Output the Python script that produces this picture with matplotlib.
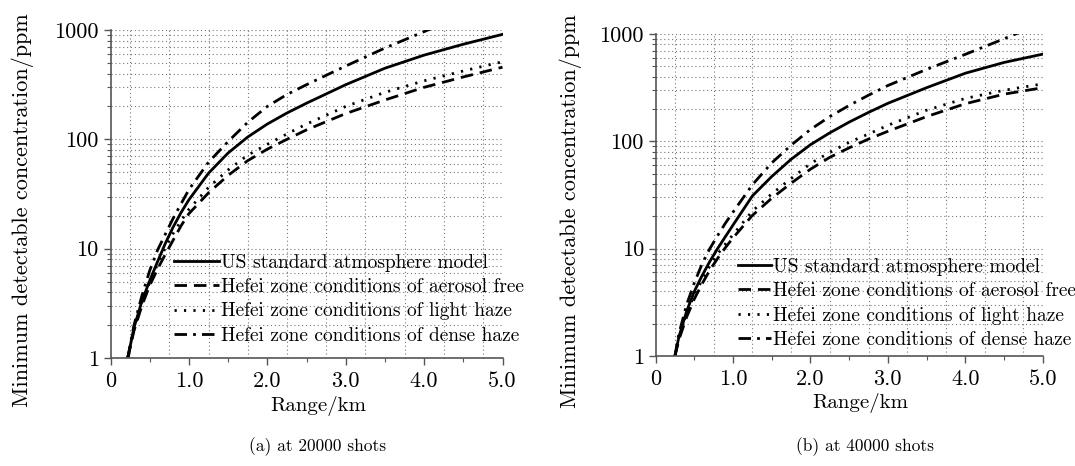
import numpy as np
import matplotlib
matplotlib.use("Agg")
import matplotlib.pyplot as plt
from matplotlib.ticker import FixedLocator, NullFormatter

plt.rcParams["font.family"] = "cmr10"
plt.rcParams["mathtext.fontset"] = "cm"
plt.rcParams["axes.formatter.use_mathtext"] = True

# ---- data (range in km, concentration in ppm) ----
# (a) 20000 shots
x_a = [0.22, 0.3, 0.4, 0.5, 0.6, 0.7, 0.8, 0.9, 1.0, 1.25, 1.5, 1.75, 2.0, 2.25, 2.5,
       2.75, 3.0, 3.5, 4.0, 4.5, 5.0]
us_a    = [1.0, 1.9, 3.3, 5.1, 7.6, 11.2, 15.8, 21.4, 28, 49, 75, 105, 138, 174, 214,
           260, 316, 447, 589, 741, 912]
free_a  = [1.0, 1.78, 3.0, 4.6, 6.5, 8.9, 12, 16.2, 20.9, 32.4, 46.8, 63.8, 81.3, 100, 122,
           145, 172, 229, 299, 372, 457]
light_a = [1.0, 1.86, 3.2, 4.9, 7.2, 10.2, 13.8, 18, 22.9, 36.3, 52.5, 71.6, 90, 112, 138,
           166, 200, 269, 343, 422, 513]
x_dense_a = [0.22, 0.3, 0.4, 0.5, 0.6, 0.7, 0.8, 0.9, 1.0, 1.25, 1.5, 1.75, 2.0, 2.25, 2.5,
             2.75, 3.0, 3.5, 4.0, 4.1]
dense_a = [1.0, 2.0, 3.7, 6.3, 9.7, 13.6, 19, 25.7, 34.7, 61.7, 95.5, 143, 200, 257, 316,
           385, 468, 684, 966, 1035]

# (b) 40000 shots
x_b = [0.25, 0.3, 0.4, 0.5, 0.6, 0.7, 0.8, 0.9, 1.0, 1.25, 1.5, 1.75, 2.0, 2.25, 2.5,
       2.75, 3.0, 3.5, 4.0, 4.5, 5.0]
us_b    = [1.0, 1.5, 2.6, 4.0, 5.6, 7.6, 10, 12.9, 16.6, 31, 47, 68, 93, 120, 151,
           186, 226, 316, 431, 543, 649]
free_b  = [1.0, 1.41, 2.3, 3.4, 4.7, 6.3, 8.1, 10.2, 12.6, 20.4, 29.5, 40.7, 55, 71, 87,
           105, 124, 170, 224, 275, 316]
light_b = [1.0, 1.48, 2.5, 3.7, 5.1, 6.9, 8.9, 11, 13.5, 22.4, 32.4, 45, 62, 79, 98,
           117, 141, 195, 251, 299, 343]
x_dense_b = [0.25, 0.3, 0.4, 0.5, 0.6, 0.7, 0.8, 0.9, 1.0, 1.25, 1.5, 1.75, 2.0, 2.25, 2.5,
             2.75, 3.0, 3.5, 4.0, 4.5, 4.65, 4.7]
dense_b = [1.0, 1.6, 3.0, 4.8, 7.2, 10, 13.2, 17.2, 21.9, 39.4, 63, 92, 129, 170, 216,
           269, 331, 468, 646, 902, 1000, 1035]

labels = ["US standard atmosphere model",
          "Hefei zone conditions of aerosol free",
          "Hefei zone conditions of light haze",
          "Hefei zone conditions of dense haze"]
captions = ["(a) at 20000 shots", "(b) at 40000 shots"]
xticks = [0, 1, 2, 3, 4, 5]
xticklabels = ["0", "1.0", "2.0", "3.0", "4.0", "5.0"]
yticks = [1, 10, 100, 1000]
yticklabels = ["1", "10", "100", "1000"]

styles = [dict(ls="-"),
          dict(ls=(0, (4.5, 2.5))),
          dict(ls=(0, (0.8, 2.6))),
          dict(ls=(0, (4.5, 2.2, 1, 2.2)))]

fig = plt.figure(figsize=(10.75, 4.66), dpi=100)
W, H = 1075, 466
axes_px = [(110.5, 502.5, 30, 358), (655.6, 1042.7, 34, 356)]
panels = [(x_a, us_a, free_a, light_a, x_dense_a, dense_a),
          (x_b, us_b, free_b, light_b, x_dense_b, dense_b)]
leg_anchor = [(0.162, 0.318), (0.212, 0.305)]
handle_len = [2.3, 1.7]
ylab_x = [-0.195, -0.19]
cap_x = [318, 865]
grid_kw = dict(color="#777777", lw=0.8, ls=(0, (1, 2.5)), zorder=0)

for i, (xs, us, fr, li, xd, de) in enumerate(panels):
    l, r, t, b = axes_px[i]
    ax = fig.add_axes([l / W, 1 - b / H, (r - l) / W, (b - t) / H])
    ax.set_yscale("log")
    ax.set_xlim(0, 5)
    ax.set_ylim(1, 1000)

    # dotted grid: horizontal at all log ticks, vertical at odd quarters
    for dec in [1, 10, 100]:
        for m in range(1, 10):
            if dec * m > 1:
                ax.axhline(dec * m, **grid_kw)
    ax.axhline(1000, **grid_kw)
    for gx in np.arange(0.25, 5.0, 0.5):
        ax.axvline(gx, **grid_kw)

    series = [(xs, us), (xs, fr), (xs, li), (xd, de)]
    for (sx, sy), st, lab in zip(series, styles, labels):
        ax.plot(sx, sy, color="black", lw=2.0, label=lab, **st)

    ax.xaxis.set_major_locator(FixedLocator(xticks))
    ax.set_xticklabels(xticklabels)
    ax.xaxis.set_minor_locator(FixedLocator(np.arange(0.5, 5.0, 1.0)))
    ax.yaxis.set_major_locator(FixedLocator(yticks))
    ax.set_yticklabels(yticklabels)
    ax.yaxis.set_minor_locator(FixedLocator([d * m for d in [1, 10, 100] for m in range(2, 10)]))
    ax.yaxis.set_minor_formatter(NullFormatter())
    ax.tick_params(which="major", direction="out", length=5, width=1, color="#555555",
                   labelsize=16)
    ax.tick_params(axis="x", which="major", pad=5)
    ax.tick_params(which="minor", direction="out", length=3, width=0.8, color="#555555")

    for s in ["top", "right"]:
        ax.spines[s].set_visible(False)
    for s in ["left", "bottom"]:
        ax.spines[s].set_color("#555555")
        ax.spines[s].set_linewidth(1.2)

    ax.set_xlabel("Range/km", fontsize=15)
    ax.xaxis.set_label_coords(0.53, -0.115)
    ax.set_ylabel("Minimum detectable concentration/ppm", fontsize=16)
    ax.yaxis.set_label_coords(ylab_x[i], 0.45)

    ax.legend(loc="upper left", bbox_to_anchor=leg_anchor[i], frameon=False,
              fontsize=14, handlelength=handle_len[i], handletextpad=0.1, labelspacing=0.33,
              borderpad=0, borderaxespad=0)

    fig.text(cap_x[i] / W, 1 - 447 / H, captions[i], fontsize=12.5, ha="center", va="center")

fig.savefig("out.png", dpi=100)
